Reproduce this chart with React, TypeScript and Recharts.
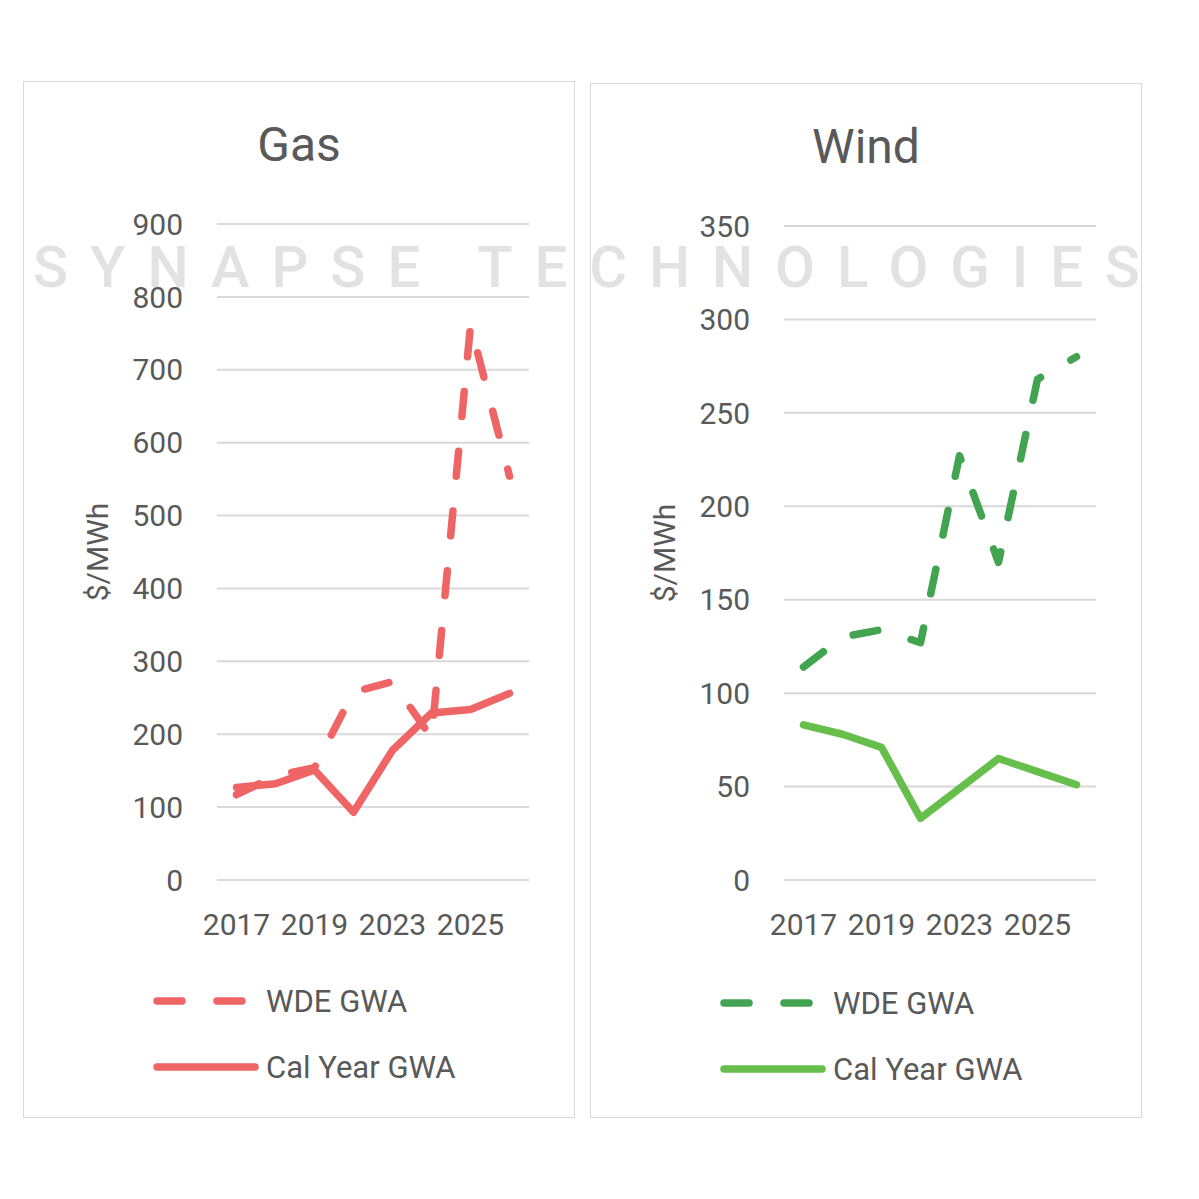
import { LineChart, Line, XAxis, YAxis, CartesianGrid, Legend } from "recharts"

const years = ["2017", "2018", "2019", "2020", "2023", "2024", "2025", "2026"]

const gasWde = [117, 143, 154, 258, 272, 195, 761, 554]
const gasCal = [127, 132, 151, 93, 178, 229, 234, 256]
const windWde = [114, 130, 134, 127, 227, 170, 268, 280]
const windCal = [83, 78, 71, 33, 49, 65, 58, 51]

const gasTicks = [0, 100, 200, 300, 400, 500, 600, 700, 800, 900]
const windTicks = [0, 50, 100, 150, 200, 250, 300, 350]

const FONT = "Roboto, 'Noto Sans', sans-serif"
const TEXT = "#595959"
const GRID = "#d9d9d9"

function buildRows(wde: number[], cal: number[]) {
  return years.map((year, i) => ({ year, wde: wde[i], cal: cal[i] }))
}

// rotated axis title, baseline sits at x=84 inside the panel
function UnitLabel(props: any) {
  const vb = props.viewBox || {}
  const cx = 84
  const cy = (vb.y ?? 142) + (vb.height ?? 656) / 2
  return (
    <text
      x={cx}
      y={cy}
      transform={`rotate(-90 ${cx} ${cy})`}
      textAnchor="middle"
      fill={TEXT}
      fontSize={30}
      fontFamily={FONT}
    >
      $/MWh
    </text>
  )
}

function SeriesLegend(props: any) {
  const items = [...(props.payload || [])].sort(
    (a: any, b: any) => (a.dataKey === "wde" ? 0 : 1) - (b.dataKey === "wde" ? 0 : 1)
  )
  return (
    <div style={{ fontFamily: FONT }}>
      {items.map((item: any) => {
        const dash = item.payload?.strokeDasharray
        return (
          <div key={item.value} style={{ display: "flex", alignItems: "center", height: 66 }}>
            <svg width={110} height={12} style={{ display: "block" }}>
              <line
                x1={4}
                y1={6}
                x2={dash ? 89 : 102}
                y2={6}
                stroke={item.color}
                strokeWidth={7.5}
                strokeLinecap="round"
                strokeDasharray={dash}
              />
            </svg>
            <span style={{ marginLeft: 3, fontSize: 31, lineHeight: "31px", color: TEXT, whiteSpace: "nowrap" }}>
              {item.value}
            </span>
          </div>
        )
      })}
    </div>
  )
}

interface PanelProps {
  title: string
  left: number
  top: number
  height: number
  rows: Array<{ year: string; wde: number; cal: number }>
  ticks: number[]
  wdeColor: string
  calColor: string
}

function Panel({ title, left, top, height, rows, ticks, wdeColor, calColor }: PanelProps) {
  const inner = height - 2
  return (
    <div
      style={{
        position: "absolute",
        left,
        top,
        width: 550,
        height: inner,
        border: `1px solid ${GRID}`,
        background: "#fff",
      }}
    >
      <div
        style={{
          position: "absolute",
          left: 0,
          top: 39,
          width: 550,
          textAlign: "center",
          fontSize: 48,
          lineHeight: "48px",
          color: TEXT,
        }}
      >
        {title}
      </div>
      <LineChart width={550} height={inner} data={rows} margin={{ top: 142, right: 45, bottom: 177, left: 0 }}>
        <CartesianGrid vertical={false} stroke={GRID} strokeWidth={2} />
        <XAxis
          dataKey="year"
          interval={1}
          padding={{ left: 19.5, right: 19.5 }}
          tickLine={false}
          axisLine={false}
          tickSize={0}
          tickMargin={34}
          height={60}
          tick={{ fill: TEXT, fontSize: 30 }}
        />
        <YAxis
          width={193}
          domain={[0, ticks[ticks.length - 1]]}
          ticks={ticks}
          interval={0}
          tickLine={false}
          axisLine={false}
          tickSize={0}
          tickMargin={34}
          tick={{ fill: TEXT, fontSize: 30 }}
          label={{ content: UnitLabel }}
        />
        <Legend
          layout="vertical"
          align="center"
          verticalAlign="middle"
          content={SeriesLegend}
          wrapperStyle={{ left: 129, top: 886, width: 320 }}
        />
        <Line
          dataKey="wde"
          name="WDE GWA"
          stroke={wdeColor}
          strokeWidth={7.5}
          strokeDasharray="25 35"
          strokeLinecap="round"
          strokeLinejoin="round"
          dot={false}
          activeDot={false}
          isAnimationActive={false}
        />
        <Line
          dataKey="cal"
          name="Cal Year GWA"
          stroke={calColor}
          strokeWidth={7.5}
          strokeLinecap="round"
          strokeLinejoin="round"
          dot={false}
          activeDot={false}
          isAnimationActive={false}
        />
      </LineChart>
    </div>
  )
}

export default function App() {
  return (
    <div style={{ position: "relative", width: 1183, height: 1183, fontFamily: FONT, background: "#fff" }}>
      <Panel
        title="Gas"
        left={15}
        top={73}
        height={1037}
        rows={buildRows(gasWde, gasCal)}
        ticks={gasTicks}
        wdeColor="#ef6464"
        calColor="#ef6464"
      />
      <Panel
        title="Wind"
        left={582}
        top={75}
        height={1035}
        rows={buildRows(windWde, windCal)}
        ticks={windTicks}
        wdeColor="#42a350"
        calColor="#66bf4b"
      />
      <svg
        width={1183}
        height={1183}
        style={{ position: "absolute", left: 0, top: 0, pointerEvents: "none" }}
      >
        <text
          x={25}
          y={279}
          fontSize={58}
          fontWeight={500}
          fill="#e2e2e2"
          fontFamily={FONT}
          textLength={1107}
          lengthAdjust="spacing"
        >
          SYNAPSE  TECHNOLOGIES
        </text>
      </svg>
    </div>
  )
}
